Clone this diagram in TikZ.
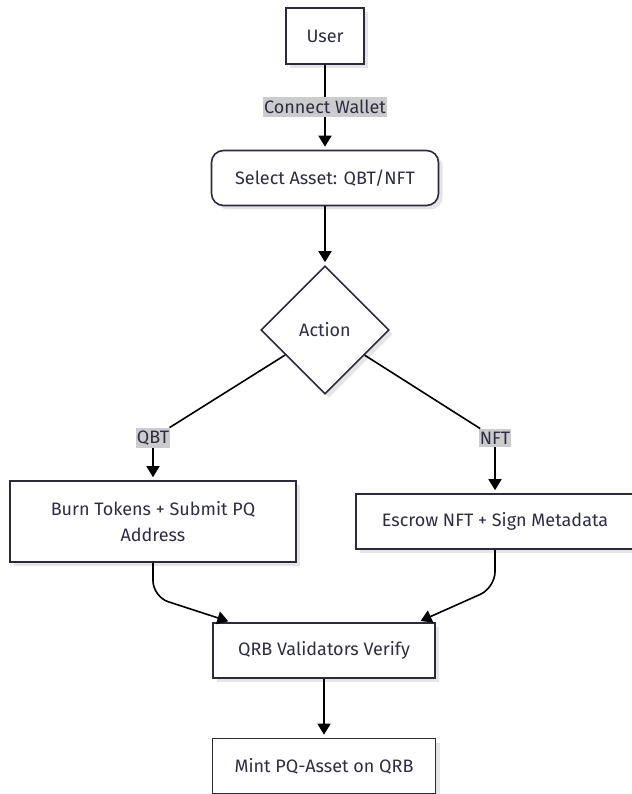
\documentclass[tikz,border=0pt]{standalone}
\usepackage{fontspec}
\setmainfont{Fira Sans}
\usetikzlibrary{shapes.geometric, arrows.meta, positioning, calc, shadows}

\definecolor{edgeclr}{HTML}{2B2A40}
\definecolor{txtclr}{HTML}{2E2D45}
\definecolor{lblclr}{HTML}{CCCCCC}

\begin{document}
\begin{tikzpicture}[
  x=1pt, y=-1pt,
  font=\fontsize{18}{26}\selectfont,
  box/.style={draw=edgeclr, line width=1.6pt, fill=white, text=txtclr, align=center,
    minimum height=55pt, inner sep=0pt,
    drop shadow={shadow xshift=4pt, shadow yshift=-4pt, opacity=0.10, fill=black}},
  roundbox/.style={box, rounded corners=12pt},
  decision/.style={box, diamond, aspect=1, minimum width=128pt, minimum height=128pt},
  edgelabel/.style={fill=lblclr, text=txtclr, inner xsep=1pt, inner ysep=3pt},
  arrow/.style={-{Triangle[length=11pt, width=13pt]}, line width=1.6pt, shorten >=3pt},
  link/.style={line width=1.6pt}
]
\useasboundingbox (0,0) rectangle (631,794);

\node[box, minimum width=78pt, minimum height=56pt] (user) at (325,36) {User};
\node[roundbox, minimum width=227pt] (select) at (325,178) {Select Asset: QBT/NFT};
\node[decision] (action) at (325,330) {Action};

\node[edgelabel] (qbt) at (153,438) {QBT};
\node[edgelabel] (nft) at (495,438) {NFT};

\node[box, minimum width=286pt, minimum height=81pt] (burn) at (153,521.5)
  {Burn Tokens + Submit PQ\\ Address};
\node[box, minimum width=278pt] (escrow) at (495,521.5) {Escrow NFT + Sign Metadata};

\node[box, minimum width=222pt] (qrb) at (324,650.5) {QRB Validators Verify};
\node[box, minimum width=223pt] (mint) at (324,766) {Mint PQ-Asset on QRB};

% edges
\draw[arrow] (user) -- (select) node[edgelabel, midway] (wallet) {Connect Wallet};
\draw[arrow] (select) -- (action);
\draw[link] (action) -- (qbt);
\draw[link] (action) -- (nft);
\draw[arrow] (qbt) -- (burn);
\draw[arrow] (nft) -- (escrow);
\draw[arrow, rounded corners=16pt] (burn.south) -- ++(0,34) -- ([xshift=19pt]qrb.north west);
\draw[arrow, rounded corners=16pt] (escrow.south) -- ++(0,38) -- ([xshift=-18pt]qrb.north east);
\draw[arrow] (qrb) -- (mint);
\end{tikzpicture}
\end{document}
